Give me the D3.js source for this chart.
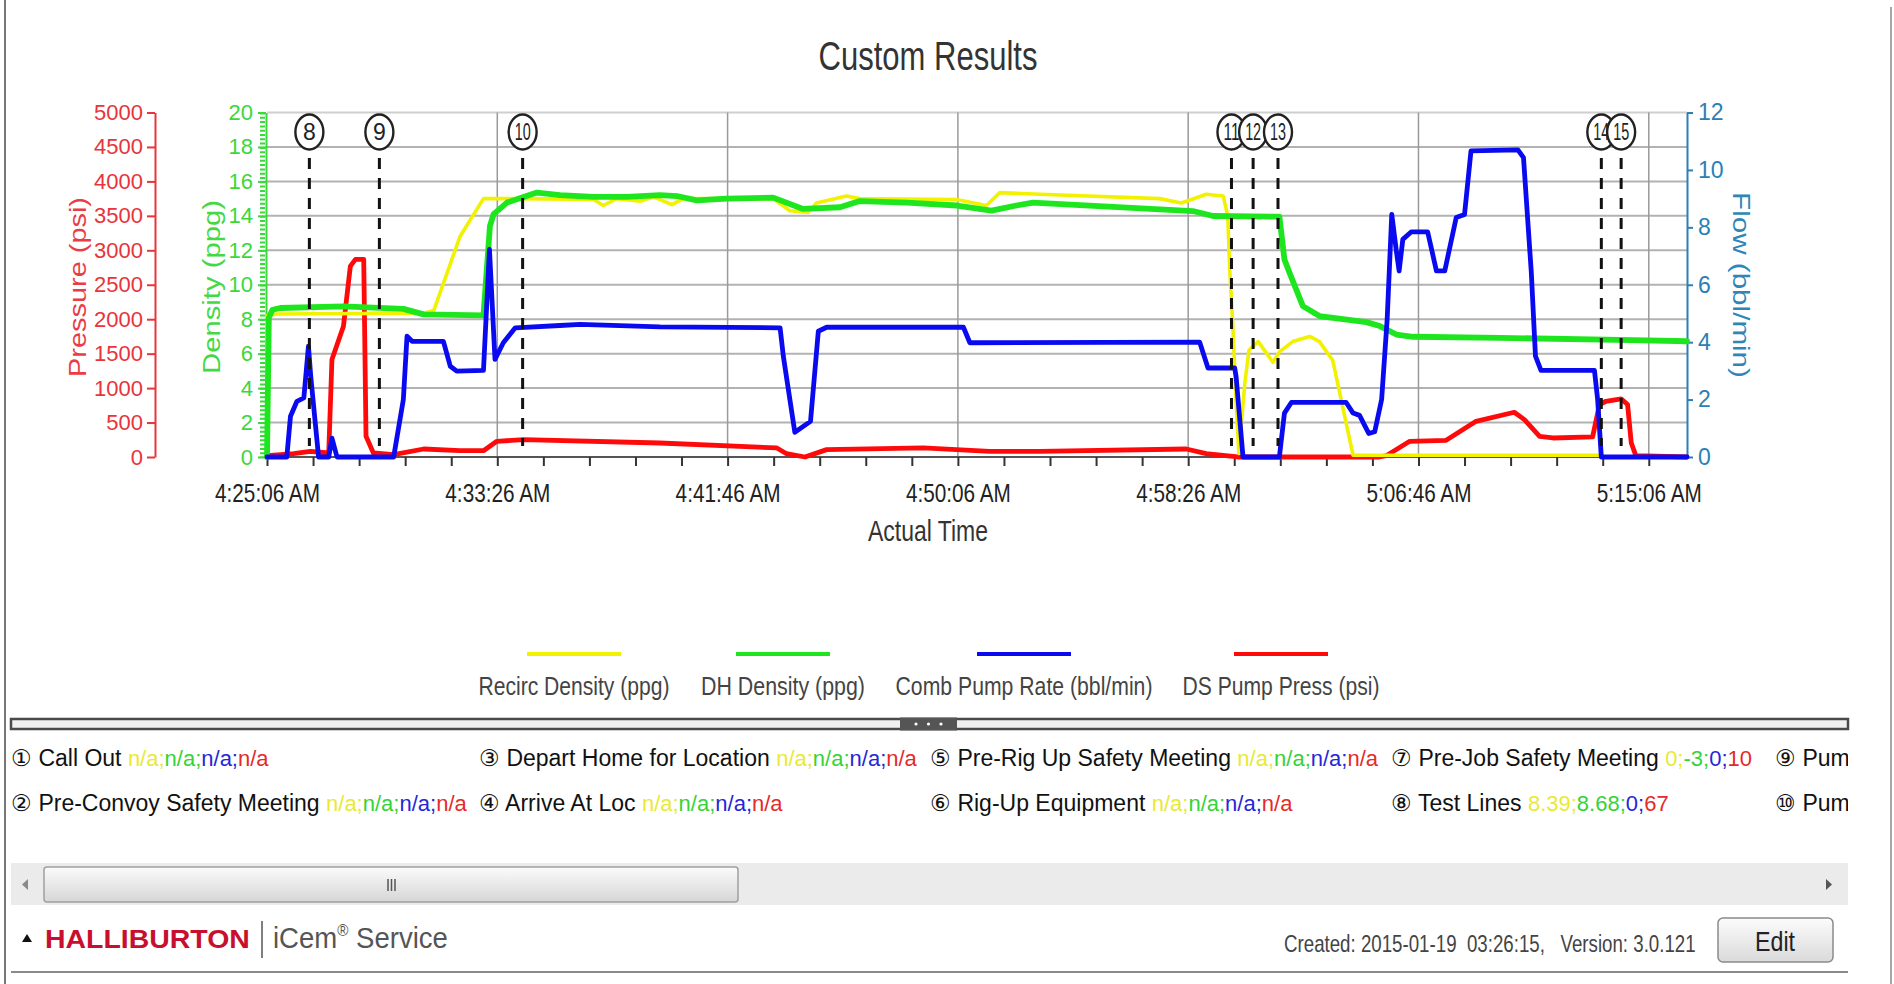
<!DOCTYPE html>
<html><head><meta charset="utf-8">
<script src="https://cdn.jsdelivr.net/npm/d3@7"></script>
<style>
html,body{margin:0;padding:0;background:#fff;overflow:hidden}
svg{display:block}
text{font-family:"Liberation Sans",Arial,sans-serif}
</style></head><body>
<svg id="c" width="1894" height="984"></svg>
<script>
// ---------------- DATA ----------------
// time axis: seconds elapsed since 4:25:06 AM
const xTickSeconds = [0, 500, 1000, 1500, 2000, 2500, 3000];
const xTickLabels = ["4:25:06 AM","4:33:26 AM","4:41:46 AM","4:50:06 AM","4:58:26 AM","5:06:46 AM","5:15:06 AM"];
const pressureTicks = [0,500,1000,1500,2000,2500,3000,3500,4000,4500,5000];
const densityTicks = [0,2,4,6,8,10,12,14,16,18,20];
const flowTicks = [0,2,4,6,8,10,12];

// Recirc Density (ppg)
const recircT = [0,20,340,362,419,470,550,709,730,759,810,839,879,904,998,1099,1135,1175,1193,1258,1287,1497,1562,1591,1678,1938,1985,2018,2039,2076,2086,2090,2097,2104,2110,2123,2132,2152,2184,2198,2227,2264,2285,2314,2358,2893];
const recircV = [8.2,8.3,8.35,8.5,12.8,15.0,15.0,14.95,14.6,15.0,14.85,15.1,14.65,15.0,15.0,15.0,14.3,14.2,14.75,15.15,15.0,14.95,14.6,15.35,15.25,15.0,14.75,15.05,15.25,15.15,14.0,11.0,7.6,3.3,0.2,4.3,6.2,6.7,5.5,6.1,6.7,7.0,6.7,5.6,0.1,0.1];

// DH Density (ppg)
const dhT = [0,4,12,29,166,296,340,470,484,492,521,557,586,636,709,781,853,890,933,998,1099,1164,1244,1287,1389,1498,1573,1627,1663,2010,2054,2198,2209,2220,2249,2285,2387,2416,2452,2488,2676,2965,3083];
const dhV = [0,8.1,8.55,8.65,8.75,8.6,8.28,8.22,13.4,14.1,14.77,15.1,15.35,15.2,15.1,15.1,15.2,15.15,14.9,15.0,15.06,14.4,14.5,14.86,14.77,14.6,14.3,14.6,14.77,14.28,13.99,13.95,11.47,10.7,8.76,8.18,7.83,7.6,7.11,6.98,6.92,6.78,6.72];

// Comb Pump Rate (bbl/min)
const rateT = [0,43,51,65,80,90,95,112,134,141,152,275,296,304,315,383,398,412,470,483,495,513,539,636,680,853,1114,1121,1146,1180,1197,1215,1512,1526,2025,2043,2101,2104,2119,2198,2209,2224,2343,2358,2372,2392,2405,2420,2432,2442,2452,2458,2466,2484,2520,2539,2557,2582,2600,2614,2716,2728,2745,2754,2766,2882,2889,2897,3083];
const rateV = [0,0,1.42,1.94,2.06,3.86,2.81,0,0,0.66,0,0,2.0,4.21,4.03,4.03,3.16,2.99,3.02,7.23,3.4,3.98,4.5,4.58,4.62,4.53,4.5,3.51,0.86,1.24,4.38,4.52,4.52,3.98,4.0,3.1,3.1,2.81,0,0,1.53,1.9,1.9,1.53,1.45,0.82,0.88,2.0,4.79,8.45,7.17,6.48,7.58,7.84,7.84,6.48,6.48,8.34,8.45,10.66,10.7,10.43,6.42,3.51,3.02,3.02,2.0,0,0];

// DS Pump Press (psi)
const pressT = [0,58,94,134,141,166,181,192,210,215,231,275,340,419,470,499,557,853,1107,1128,1168,1215,1425,1569,1678,1996,2039,2097,2110,2415,2430,2481,2560,2625,2708,2730,2763,2792,2878,2893,2907,2940,2954,2962,2972,3083];
const pressV = [20,48,82,58,1415,1899,2771,2868,2868,300,58,34,116,92,92,228,252,203,131,48,0,107,131,82,82,116,48,10,0,0,19,228,242,518,649,543,300,276,291,761,809,843,761,203,19,0];

// chart event markers
const markerIds = [8,9,10,11,12,13,14,15];
const markerSeconds = [92,244,555,2094,2141,2195,2897,2940];

// legend
const legendNames = ["Recirc Density (ppg)","DH Density (ppg)","Comb Pump Rate (bbl/min)","DS Pump Press (psi)"];
const seriesColors = ["#f2f200","#1ee61e","#0a0af0","#ff0a0a"];

// event list below the chart
const eventNames = ["Call Out","Pre-Convoy Safety Meeting","Depart Home for Location","Arrive At Loc","Pre-Rig Up Safety Meeting","Rig-Up Equipment","Pre-Job Safety Meeting","Test Lines","Pump","Pump"];
const eventValues = [
  ["n/a","n/a","n/a","n/a"],["n/a","n/a","n/a","n/a"],["n/a","n/a","n/a","n/a"],["n/a","n/a","n/a","n/a"],
  ["n/a","n/a","n/a","n/a"],["n/a","n/a","n/a","n/a"],["0","-3","0","10"],["8.39","8.68","0","67"],[],[]
];
const valueColors = ["#e9e934","#36d336","#2626d8","#e52a2a"];

// ---------------- DRAW ----------------
const svg = d3.select("#c");
const W = 1894, H = 984;
const PL = 267, PR = 1687, PT = 112.5, PB = 457;
const x = d3.scaleLinear().domain([0, 3083]).range([PL, PR]);
const yD = d3.scaleLinear().domain([0, 20]).range([PB, PT]);
const yP = d3.scaleLinear().domain([0, 5000]).range([PB, PT]);
const yF = d3.scaleLinear().domain([0, 12]).range([PB, PT]);
const FONT = '"Liberation Sans", Arial, sans-serif';

// text placed at (x,y) [+ rotation], horizontally scaled to a target width
function fitText(parent, str, px, py, target, opts) {
  const o = opts || {};
  const t = parent.append("text").attr("x", 0).attr("y", 0)
    .attr("text-anchor", o.anchor || "start")
    .attr("font-size", o.size || 20).attr("fill", o.fill || "#333");
  if (o.family) t.attr("font-family", o.family);
  if (o.weight) t.attr("font-weight", o.weight);
  if (o.baseline) t.attr("dominant-baseline", o.baseline);
  if (o.pre) t.style("white-space", "pre");
  if (o.build) o.build(t); else t.text(str);
  const w = t.node().getComputedTextLength();
  const s = target ? target / w : 1;
  t.attr("transform", `translate(${px},${py})${o.rot ? ` rotate(${o.rot})` : ""} scale(${s},1)`);
  return t;
}

svg.append("rect").attr("width", W).attr("height", H).attr("fill", "#fff");
// page borders
svg.append("line").attr("x1", 5).attr("x2", 5).attr("y1", 0).attr("y2", H).attr("stroke", "#777").attr("stroke-width", 2);
svg.append("line").attr("x1", 1891).attr("x2", 1891).attr("y1", 7).attr("y2", H).attr("stroke", "#888").attr("stroke-width", 1.5);

// title
fitText(svg, "Custom Results", 928, 70, 219, {anchor: "middle", size: 40, fill: "#333"});

// grid
const gGrid = svg.append("g");
gGrid.selectAll("line").data(densityTicks.filter(d => d > 0)).join("line")
  .attr("x1", PL).attr("x2", PR).attr("y1", d => yD(d)).attr("y2", d => yD(d))
  .attr("stroke", d => d === 20 ? "#cfcfcf" : "#b2b2b2").attr("stroke-width", 2);
const gVGrid = svg.append("g");
gVGrid.selectAll("line").data(xTickSeconds.filter(d => d > 0)).join("line")
  .attr("x1", d => x(d)).attr("x2", d => x(d)).attr("y1", PT).attr("y2", PB)
  .attr("stroke", "#9a9a9a").attr("stroke-width", 1.5);

// x axis
const xAxis = d3.axisBottom(x).tickValues(d3.range(0, 3001, 100)).tickSize(9).tickSizeOuter(0)
  .tickFormat(d => { const i = xTickSeconds.indexOf(d); return i >= 0 ? xTickLabels[i] : ""; });
const gx = svg.append("g").attr("transform", `translate(0,${PB})`).call(xAxis)
  .attr("font-family", FONT).attr("font-size", 25);
gx.select(".domain").attr("d", `M${PL},0H${PR}`).attr("stroke", "#555").attr("stroke-width", 2);
gx.selectAll(".tick line").attr("stroke", "#333").attr("stroke-width", 2);
gx.selectAll(".tick text").attr("y", 45).attr("dy", null).attr("fill", "#222").attr("transform", "scale(0.83,1)");
fitText(svg, "Actual Time", 928, 541, 120, {anchor: "middle", size: 29, fill: "#333"});

// pressure axis
const RED = "#e8343a", GREEN = "#3ad83a", TEAL = "#2a80b5";
const gp = svg.append("g").attr("transform", "translate(155,0)")
  .call(d3.axisLeft(yP).tickValues(pressureTicks).tickFormat(d3.format("d")).tickSize(8).tickSizeOuter(0).tickPadding(4))
  .attr("font-family", FONT).attr("font-size", 22);
gp.select(".domain").attr("stroke", RED).attr("stroke-width", 2);
gp.selectAll(".tick line").attr("stroke", RED).attr("stroke-width", 2);
gp.selectAll(".tick text").attr("fill", RED);

// density axis
const gd = svg.append("g").attr("transform", "translate(266,0)")
  .call(d3.axisLeft(yD).tickValues(densityTicks).tickFormat(d3.format("d")).tickSize(8).tickSizeOuter(0).tickPadding(5))
  .attr("font-family", FONT).attr("font-size", 22);
gd.select(".domain").attr("stroke", GREEN).attr("stroke-width", 2);
gd.selectAll(".tick line").attr("stroke", GREEN).attr("stroke-width", 2);
gd.selectAll(".tick text").attr("fill", GREEN);
svg.append("line").attr("x1", 262.5).attr("x2", 262.5).attr("y1", PT).attr("y2", PB)
  .attr("stroke", GREEN).attr("stroke-width", 5).attr("stroke-dasharray", "2,2.3");

// flow axis
const gf = svg.append("g").attr("transform", `translate(${PR},0)`)
  .call(d3.axisRight(yF).tickValues(flowTicks).tickFormat(d3.format("d")).tickSize(6).tickSizeOuter(0).tickPadding(5))
  .attr("font-family", FONT).attr("font-size", 23);
gf.select(".domain").attr("stroke", TEAL).attr("stroke-width", 2);
gf.selectAll(".tick line").attr("stroke", TEAL).attr("stroke-width", 2);
gf.selectAll(".tick text").attr("fill", TEAL);

// axis titles
const TFAM = '"DejaVu Sans", Verdana, sans-serif';
fitText(svg, "Pressure (psi)", 78, 287, 180, {anchor: "middle", size: 24, fill: "#ea3c44", family: TFAM, rot: -90, baseline: "central"});
fitText(svg, "Density (ppg)", 212, 287, 174, {anchor: "middle", size: 24, fill: "#44d844", family: TFAM, rot: -90, baseline: "central"});
fitText(svg, "Flow (bbl/min)", 1741, 285, 186, {anchor: "middle", size: 24, fill: "#2e86b8", family: TFAM, rot: 90, baseline: "central"});

// series lines
const lineP = d3.line().x((d, i) => x(pressT[i])).y(d => yP(d));
const lineR = d3.line().x((d, i) => x(recircT[i])).y(d => yD(d));
const lineDH = d3.line().x((d, i) => x(dhT[i])).y(d => yD(d));
const lineF = d3.line().x((d, i) => x(rateT[i])).y(d => yF(d));
const gl = svg.append("g").attr("fill", "none").attr("stroke-linejoin", "round").attr("stroke-linecap", "round");
gl.append("path").attr("d", lineP(pressV)).attr("stroke", seriesColors[3]).attr("stroke-width", 4.8);
gl.append("path").attr("d", lineR(recircV)).attr("stroke", seriesColors[0]).attr("stroke-width", 3.6);
gl.append("path").attr("d", lineDH(dhV)).attr("stroke", seriesColors[1]).attr("stroke-width", 5.8);
gl.append("path").attr("d", lineF(rateV)).attr("stroke", seriesColors[2]).attr("stroke-width", 4.8);

// event markers
const gm = svg.append("g");
markerIds.forEach((id, i) => {
  const mx = x(markerSeconds[i]);
  gm.append("line").attr("x1", mx).attr("x2", mx).attr("y1", 158).attr("y2", 446)
    .attr("stroke", "#111").attr("stroke-width", 3).attr("stroke-dasharray", "11,9");
});
markerIds.forEach((id, i) => {
  const mx = x(markerSeconds[i]);
  gm.append("ellipse").attr("cx", mx).attr("cy", 132).attr("rx", 14).attr("ry", 17.5)
    .attr("fill", "#fff").attr("stroke", "#222").attr("stroke-width", 2.4);
  fitText(gm, String(id), mx, 140, id >= 10 ? 16 : 0, {anchor: "middle", size: 23, fill: "#222"});
});

// legend
const legendX = [574, 783, 1024, 1281];
const legendW = [191, 164, 257, 197];
legendNames.forEach((n, i) => {
  svg.append("line").attr("x1", legendX[i] - 47).attr("x2", legendX[i] + 47).attr("y1", 654).attr("y2", 654)
    .attr("stroke", seriesColors[i]).attr("stroke-width", 4);
  fitText(svg, n, legendX[i], 695, legendW[i], {anchor: "middle", size: 26, fill: "#444"});
});

// splitter bar
svg.append("rect").attr("x", 11).attr("y", 719).attr("width", 1837).attr("height", 10)
  .attr("fill", "#f0f0f0").attr("stroke", "#4a4a4a").attr("stroke-width", 2.5);
svg.append("rect").attr("x", 900).attr("y", 717.5).attr("width", 57).attr("height", 13).attr("fill", "#555");
[916, 928.5, 941].forEach(cx => svg.append("circle").attr("cx", cx).attr("cy", 724).attr("r", 1.6).attr("fill", "#fff"));

// event list
const defs = svg.append("defs");
defs.append("clipPath").attr("id", "evclip").append("rect").attr("x", 0).attr("y", 730).attr("width", 1848).attr("height", 120);
const ge = svg.append("g").attr("clip-path", "url(#evclip)");
const colX = [11, 479, 930, 1391, 1775];
const rowY = [766, 811];
eventNames.forEach((n, i) => {
  const t = ge.append("text").attr("x", colX[Math.floor(i / 2)]).attr("y", rowY[i % 2])
    .attr("font-size", 23).attr("fill", "#111").style("white-space", "pre");
  t.append("tspan").text(String.fromCharCode(0x2460 + i) + " " + n + (eventValues[i].length ? " " : ""));
  eventValues[i].forEach((v, k) => {
    t.append("tspan").attr("fill", valueColors[k]).attr("font-size", 22)
      .text(v + (k < eventValues[i].length - 1 ? ";" : ""));
  });
});

// scrollbar
const grad = defs.append("linearGradient").attr("id", "thumbg").attr("x1", 0).attr("x2", 0).attr("y1", 0).attr("y2", 1);
grad.append("stop").attr("offset", "0%").attr("stop-color", "#fbfbfb");
grad.append("stop").attr("offset", "100%").attr("stop-color", "#d6d6d6");
svg.append("rect").attr("x", 11).attr("y", 863).attr("width", 1837).attr("height", 42).attr("fill", "#ebebeb");
svg.append("rect").attr("x", 44).attr("y", 867).attr("width", 694).attr("height", 35).attr("rx", 3)
  .attr("fill", "url(#thumbg)").attr("stroke", "#a0a0a0").attr("stroke-width", 1.5);
[388, 391.5, 395].forEach(gx0 => svg.append("line").attr("x1", gx0).attr("x2", gx0).attr("y1", 879).attr("y2", 891)
  .attr("stroke", "#555").attr("stroke-width", 1.5));
svg.append("path").attr("d", "M28,879 L22,884.5 L28,890 Z").attr("fill", "#8a8a8a");
svg.append("path").attr("d", "M1826,879 L1832,884.5 L1826,890 Z").attr("fill", "#555");

// footer
svg.append("path").attr("d", "M22,942 L32,942 L27,934 Z").attr("fill", "#111");
fitText(svg, "HALLIBURTON", 45, 948, 205, {size: 25, weight: "bold", fill: "#c8102e"});
svg.append("line").attr("x1", 262).attr("x2", 262).attr("y1", 921).attr("y2", 958).attr("stroke", "#555").attr("stroke-width", 1.5);
fitText(svg, "", 273, 948, 175, {size: 29, fill: "#555", build: t => {
  t.append("tspan").text("iCem");
  t.append("tspan").attr("font-size", 16).attr("dy", -12).text("®");
  t.append("tspan").attr("dy", 12).text(" Service");
}});
fitText(svg, "Created: 2015-01-19  03:26:15,   Version: 3.0.121", 1284, 952, 412, {size: 24, fill: "#444", pre: true});
const bgrad = defs.append("linearGradient").attr("id", "btng").attr("x1", 0).attr("x2", 0).attr("y1", 0).attr("y2", 1);
bgrad.append("stop").attr("offset", "0%").attr("stop-color", "#fcfcfc");
bgrad.append("stop").attr("offset", "100%").attr("stop-color", "#dadada");
svg.append("rect").attr("x", 1718).attr("y", 918).attr("width", 115).attr("height", 44).attr("rx", 5)
  .attr("fill", "url(#btng)").attr("stroke", "#8a8a8a").attr("stroke-width", 1.5);
fitText(svg, "Edit", 1775, 951, 40, {anchor: "middle", size: 27, fill: "#222"});
svg.append("line").attr("x1", 11).attr("x2", 1848).attr("y1", 972).attr("y2", 972).attr("stroke", "#8a8a8a").attr("stroke-width", 2);
</script>
</body></html>
